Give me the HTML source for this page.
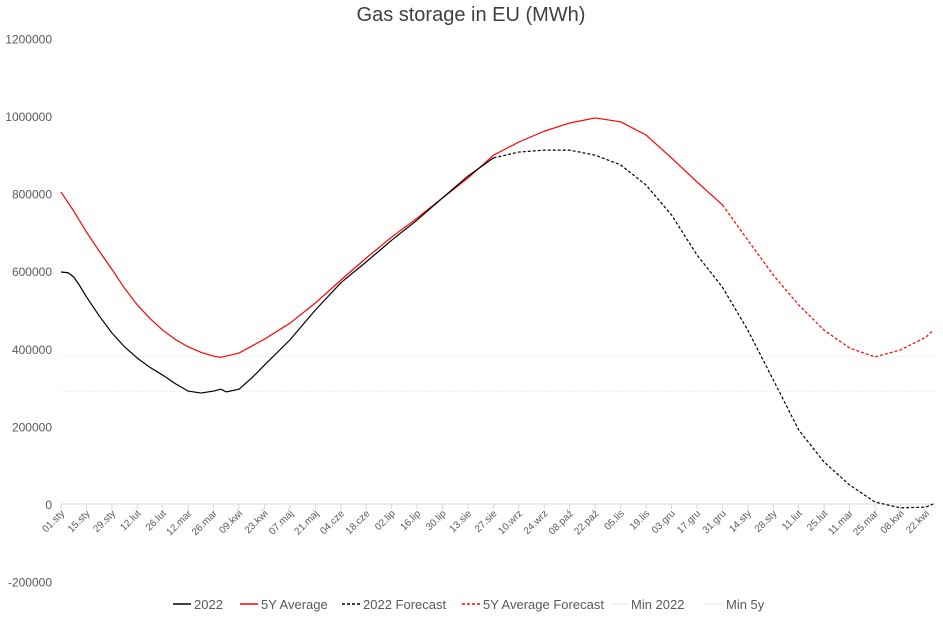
<!DOCTYPE html>
<html><head><meta charset="utf-8"><style>
body{margin:0;background:#fff;font-family:"Liberation Sans",Calibri,sans-serif}
svg text{font-family:"Liberation Sans",sans-serif}
</style></head><body>
<svg id="c" width="943" height="617">
<text x="471" y="21" text-anchor="middle" font-size="20" fill="#404040">Gas storage in EU (MWh)</text>
<g id="yax"></g>
<g id="xax"></g>
<g id="series"></g>
<g id="legend"></g>
</svg>
<script>
const yTicks=[-200000,0,200000,400000,600000,800000,1000000,1200000];
const xLabels=["01.sty","15.sty","29.sty","12.lut","26.lut","12.mar","26.mar","09.kwi","23.kwi","07.maj","21.maj","04.cze","18.cze","02.lip","16.lip","30.lip","13.sie","27.sie","10.wrz","24.wrz","08.paź","22.paź","05.lis","19.lis","03.gru","17.gru","31.gru","14.sty","28.sty","11.lut","25.lut","11.mar","25.mar","08.kwi","22.kwi"];
const d2022=[0,4,7,10,14,21,28,35,42,49,56,63,70,77,84,88,91,98,105,112,126,140,154,168,182,196,210,224,238];
const v2022=[598,596,585,565,534,485,441,405,376,352,332,310,291,286,291,296,289,296,325,358,423,500,570,624,680,732,789,845,892];
const dF2022=[238,252,266,280,294,308,322,336,350,364,378,392,406,420,434,448,462,476,480];
const vF2022=[892,907,912,912,899,874,822,745,642,559,448,320,191,108,49,5,-10,-8,0];
const dAvg=[0,7,14,21,28,35,42,49,56,63,70,77,84,88,98,112,126,140,154,168,182,196,210,224,238,252,266,280,294,308,322,336,350,364];
const vAvg=[804,755,701,652,605,556,513,478,448,424,405,391,381,378,389,425,466,518,577,634,688,737,789,840,899,933,961,982,995,985,951,892,830,771];
const dFAvg=[364,378,392,406,420,434,448,462,476,480];
const vFAvg=[771,680,590,513,448,402,379,397,430,448];
const min2022=290, min5y=380;
const NS="http://www.w3.org/2000/svg";
const X=d=>61+d*1.817, Y=v=>504-v/1000000*388, Yk=v=>Y(v*1000);
function mk(p,t,a){const e=document.createElementNS(NS,t);for(const k in a)e.setAttribute(k,a[k]);p.appendChild(e);return e;}
const yax=document.getElementById('yax');
yTicks.forEach(t=>{const e=mk(yax,'text',{x:52,y:Y(t)+5,'text-anchor':'end','font-size':12,fill:'#595959'});e.textContent=t;

});
const xax=document.getElementById('xax');
const ax=mk(xax,'line',{x1:61,x2:935,y1:Y(0),y2:Y(0),stroke:'#d9d9d9'});


xLabels.forEach((l,i)=>{const x=X(i*14);
mk(xax,'line',{x1:x,x2:x,y1:Y(0),y2:Y(0)+5,stroke:'#d9d9d9'});
const e=mk(xax,'text',{x:x+4,y:Y(0)+10,'text-anchor':'end','font-size':10,fill:'#595959',transform:`rotate(-45 ${x+4} ${Y(0)+10})`});e.textContent=l;

});
const s=document.getElementById('series');
function line(d,v,col,dash,name){const pts=d.map((dd,i)=>X(dd)+','+Yk(v[i])).join(' ');
const e=mk(s,'polyline',{points:pts,fill:'none',stroke:col,'stroke-width':1.2,'stroke-linejoin':'round'});if(dash)e.setAttribute('stroke-dasharray','3,2');

}
const m1=mk(s,'line',{x1:61,x2:935,y1:Yk(min2022),y2:Yk(min2022),stroke:'#f2f2f2','stroke-dasharray':'2,1'});


const m2=mk(s,'line',{x1:61,x2:935,y1:Yk(min5y),y2:Yk(min5y),stroke:'#f2f2f2','stroke-dasharray':'2,1'});


line(dFAvg,vFAvg,'#ff0000',true,'5y-average-forecast-line');
line(dAvg,vAvg,'#ff0000',false,'5y-average-line');
line(dF2022,vF2022,'#000',true,'2022-forecast-line');
line(d2022,v2022,'#000',false,'2022-line');
const lg=document.getElementById('legend');
const items=[["2022","#000",false,173],["5Y Average","#ff0000",false,240],["2022 Forecast","#000",true,342],["5Y Average Forecast","#ff0000",true,462],["Min 2022","#eee",false,610],["Min 5y","#eee",false,705]];
items.forEach(it=>{const g=mk(lg,'g',{});


const l=mk(g,'line',{x1:it[3],x2:it[3]+18,y1:604,y2:604,stroke:it[1],'stroke-width':1.5});if(it[2])l.setAttribute('stroke-dasharray','3,2');
const t=mk(g,'text',{x:it[3]+21,y:609,'font-size':13,fill:'#595959'});t.textContent=it[0];});
</script>
</body></html>
